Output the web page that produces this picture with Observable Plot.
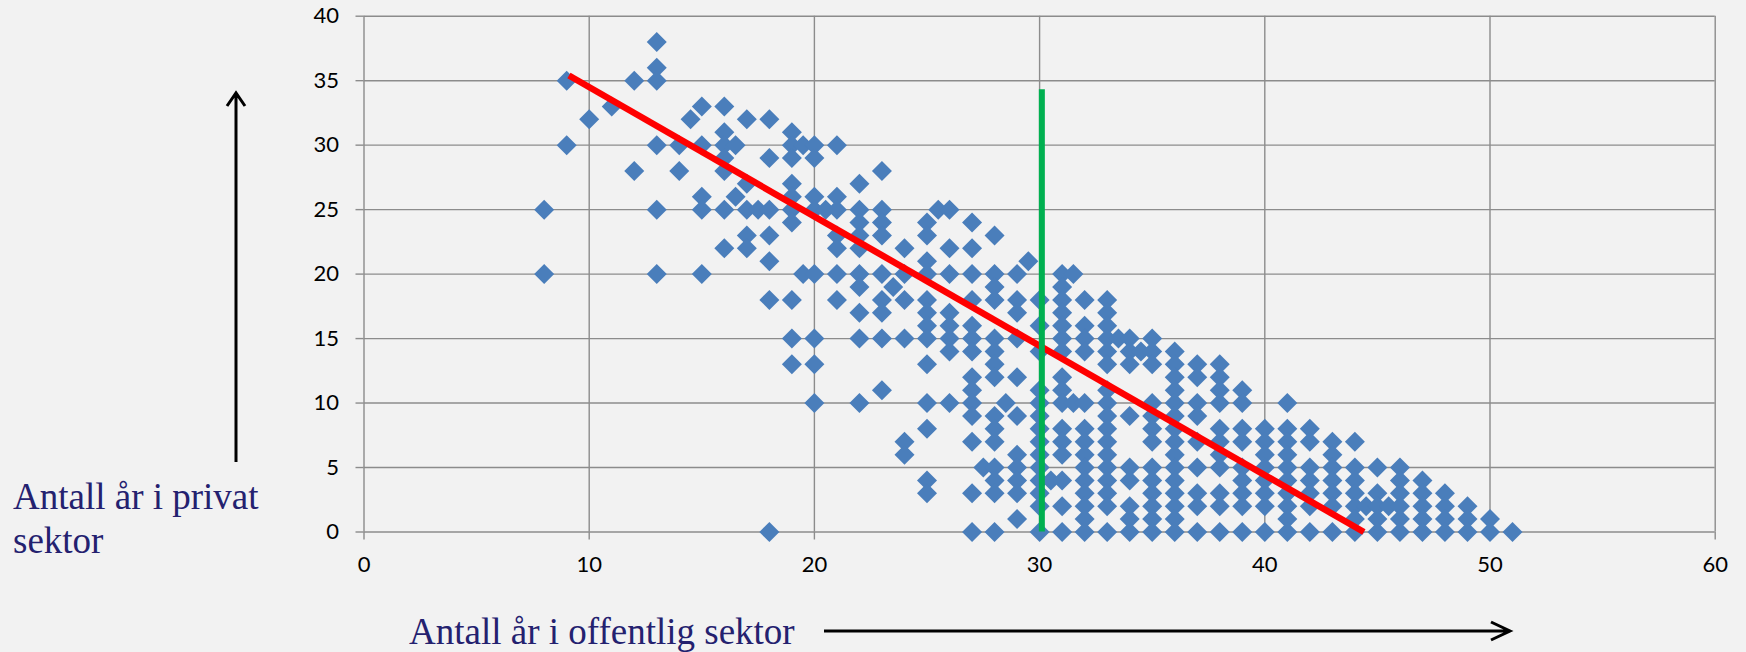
<!DOCTYPE html>
<html>
<head>
<meta charset="utf-8">
<script src="https://cdn.jsdelivr.net/npm/d3@7"></script>
<script src="https://cdn.jsdelivr.net/npm/@observablehq/plot@0.6"></script>
<style>
  html, body { margin: 0; padding: 0; background: #f2f2f2; }
  #chart { width: 1746px; height: 652px; }
</style>
</head>
<body>
<div id="chart"></div>
<script>
// Years in public sector (x) with the years in private sector (y) observed at each x
const colX = [8,9,10,11,12,13,14,14.5,15,16,16.5,17,17.5,18,19,19.5,20,20.5,21,22,23,23.5,24,25,25.5,26,27,27.5,28,28.5,29,29.5,30,30.5,31,31.5,32,33,33.5,34,34.5,35,36,37,38,39,40,41,42,43,44,44.5,45,45.5,46,47,48,49,50,51];
const colY = [
  [25,20],[35,30],[32],[33],[35,28],[38,36,35,30,25,20],[30,28],[32],
  [33,30,26,25,20],[33,31,30,29,28,25,22],[30,26],[32,27,25,23,22],[25],
  [32,29,25,23,21,18,0],[31,30,29,27,26,25,24,18,15,13],[30,20],
  [30,29,26,25,20,15,13,10],[25],[30,26,25,23,22,20,18],
  [27,25,24,23,22,20,19,17,15,10],[28,25,24,23,20,18,17,15,11],[19],
  [22,20,18,15,7,6],[24,23,21,20,18,17,16,15,13,10,8,4,3],[25],
  [25,22,20,17,16,15,14,10],[24,22,20,18,16,15,14,12,11,10,9,7,3,0],[5],
  [23,20,19,18,15,14,13,12,9,8,7,5,4,3,0],[10],[20,18,17,15,12,9,6,5,4,3,1],[21],
  [18,16,14,11,10,9,8,7,6,5,4,3,2,0],[4],
  [20,19,18,17,16,15,14,12,11,10,8,7,6,4,2,0],[20,10],
  [18,16,15,14,10,8,7,6,5,4,3,2,1,0],
  [18,17,16,15,14,13,11,10,9,8,7,6,5,4,3,2,0],[15],
  [15,14,13,9,5,4,2,1,0],[14],[15,14,13,10,9,8,7,5,4,3,2,1,0],
  [14,13,12,11,10,9,8,7,6,5,4,3,2,1,0],[13,12,10,9,7,5,3,2,0],
  [13,12,11,10,8,7,6,5,3,2,0],[11,10,8,7,5,4,3,2,0],[8,7,6,5,4,3,2,0],
  [10,8,7,6,5,4,3,2,1,0],[8,7,5,4,3,2,0],[7,6,5,4,3,2,0],[7,5,4,3,2,1,0],[2],
  [5,3,2,1,0],[2],[5,4,3,2,1,0],[4,3,2,1,0],[3,2,1,0],[2,1,0],[1,0],[0]
];
// Trend line (red) end points
const trendX = [9.1, 44.4];
const trendY = [35.4, 0];
// Vertical marker (green)
const markerX = 30.1;
const markerTop = 34.3;
// Tick values
const xTicks = [0,10,20,30,40,50,60];
const yTicks = [0,5,10,15,20,25,30,35,40];
// Axis titles
const yTitleLines = ["Antall år i privat", "sektor"];
const xTitle = "Antall år i offentlig sektor";

const points = colX.flatMap((x, i) => colY[i].map(y => ({x, y})));
const trend = trendX.map((x, i) => ({x, y: trendY[i]}));

const diamond = {
  draw(ctx, size) {
    const r = Math.sqrt(size / Math.PI);
    ctx.moveTo(0, -r); ctx.lineTo(r, 0); ctx.lineTo(0, r); ctx.lineTo(-r, 0); ctx.closePath();
  }
};

const gridColor = "#8c8c8c";
const chart = Plot.plot({
  width: 1746,
  height: 652,
  marginLeft: 363.5,
  marginRight: 31.3,
  marginTop: 15.7,
  marginBottom: 120.5,
  style: {background: "#f2f2f2", fontFamily: "Lato, 'Open Sans', sans-serif", fontSize: "22px", color: "black"},
  x: {domain: [0, 60]},
  y: {domain: [0, 40]},
  marks: [
    Plot.gridX(xTicks, {stroke: gridColor, strokeOpacity: 1, strokeWidth: 1.4}),
    Plot.gridY(yTicks, {stroke: gridColor, strokeOpacity: 1, strokeWidth: 1.4}),
    Plot.axisX(xTicks, {tickSize: 8, tickPadding: 16, stroke: gridColor, strokeWidth: 1.4, fill: "black", fontSize: 22, label: null, tickFormat: d => String(d)}),
    Plot.axisY(yTicks, {tickSize: 8, tickPadding: 17, stroke: gridColor, strokeWidth: 1.4, fill: "black", fontSize: 22, label: null, tickFormat: d => String(d)}),
    Plot.dot(points, {x: "x", y: "y", symbol: diamond, r: 10, fill: "#4a7ebb", stroke: "none"}),
    Plot.line(trend, {x: "x", y: "y", stroke: "#ff0000", strokeWidth: 6.5, strokeLinecap: "butt"}),
    Plot.ruleX([markerX], {y1: 0, y2: markerTop, stroke: "#00b050", strokeWidth: 6})
  ]
});
document.getElementById("chart").appendChild(chart);

// Axis titles and arrows
const svg = d3.select(chart);
const titleColor = "#24216f";
const serif = "'Liberation Serif', 'Times New Roman', serif";
const yt = svg.append("text")
  .attr("text-anchor", "start")
  .attr("fill", titleColor).attr("font-family", serif).attr("font-size", 37);
yt.selectAll("tspan").data(yTitleLines).join("tspan")
  .attr("x", 13).attr("y", (d, i) => 509 + i * 44).text(d => d);
svg.append("text")
  .attr("text-anchor", "start")
  .attr("x", 409).attr("y", 644)
  .attr("fill", titleColor).attr("font-family", serif).attr("font-size", 37)
  .text(xTitle);

const arrows = svg.append("g").attr("stroke", "black").attr("stroke-width", 3).attr("fill", "none");
arrows.append("path").attr("d", "M236,462 L236,93 M227,106 L236,93 L245,106");
arrows.append("path").attr("d", "M824,631 L1510,631 M1491,622 L1510,631 L1491,640");
</script>
</body>
</html>
